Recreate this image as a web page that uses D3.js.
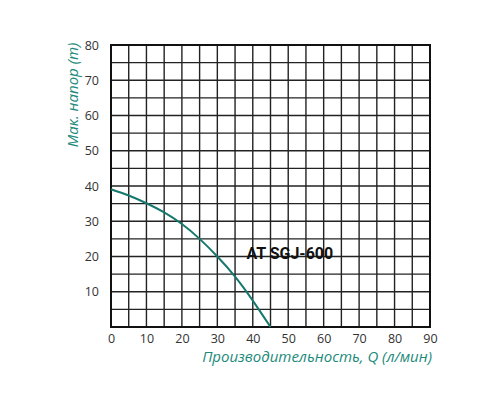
<!DOCTYPE html>
<html lang="ru">
<head>
<meta charset="UTF-8">
<script src="https://d3js.org/d3.v7.min.js"></script>
<style>
  body { margin: 0; background: #fff; }
  .tick text { font-family: "Open Sans", sans-serif; font-size: 12.5px; fill: #333; }
  .title { font-family: "Open Sans", sans-serif; font-style: italic; font-size: 15px; fill: #1b8a7b; }
</style>
</head>
<body>
<div id="chart"></div>
<script>
  // pump curve values
  var flow = [0, 5, 10, 15, 20, 25, 30, 35, 40, 45];
  var head = [39.1, 37.3, 35.1, 32.5, 29.2, 25, 20, 14.3, 7.5, 0];
  var xTicks = [0, 10, 20, 30, 40, 50, 60, 70, 80, 90];
  var yTicks = [10, 20, 30, 40, 50, 60, 70, 80];
  var modelName = "AT SGJ-600";

  var width = 500, height = 400;
  var margin = {top: 45, right: 70, bottom: 73, left: 111};

  var svg = d3.select("#chart").append("svg")
      .attr("width", width).attr("height", height);

  var x = d3.scaleLinear().domain([0, 90]).range([margin.left, width - margin.right]);
  var y = d3.scaleLinear().domain([0, 80]).range([height - margin.bottom, margin.top]);

  // grid every 5 units
  var g = svg.append("g");
  g.selectAll(".vx").data(d3.range(0, 91, 5)).enter().append("line")
      .attr("x1", d => x(d)).attr("x2", d => x(d))
      .attr("y1", y(0)).attr("y2", y(80))
      .attr("stroke", "#222").attr("stroke-width", 1.4);
  g.selectAll(".hy").data(d3.range(0, 81, 5)).enter().append("line")
      .attr("x1", x(0)).attr("x2", x(90))
      .attr("y1", d => y(d)).attr("y2", d => y(d))
      .attr("stroke", "#222").attr("stroke-width", 1.4);
  g.append("rect")
      .attr("x", x(0)).attr("y", y(80))
      .attr("width", x(90) - x(0)).attr("height", y(0) - y(80))
      .attr("fill", "none").attr("stroke", "#111").attr("stroke-width", 2);

  // axes, labels only
  var xAxis = svg.append("g").attr("transform", "translate(0," + y(0) + ")")
      .call(d3.axisBottom(x).tickValues(xTicks).tickSize(0).tickPadding(7));
  xAxis.select(".domain").remove();

  var yAxis = svg.append("g").attr("transform", "translate(" + x(0) + ",0)")
      .call(d3.axisLeft(y).tickValues(yTicks).tickSize(0).tickPadding(12));
  yAxis.select(".domain").remove();

  // curve
  var line = d3.line().curve(d3.curveNatural)
      .x((d, i) => x(flow[i])).y(d => y(d));
  svg.append("path").datum(head)
      .attr("d", line)
      .attr("fill", "none")
      .attr("stroke", "#16786c")
      .attr("stroke-width", 2);

  svg.append("text")
      .attr("x", x(38.2)).attr("y", y(19.2))
      .attr("font-family", "Roboto, sans-serif")
      .attr("font-weight", "bold").attr("font-size", 16)
      .attr("fill", "#111")
      .text(modelName);

  // axis titles
  svg.append("text").attr("class", "title")
      .attr("transform", "translate(78,95) rotate(-90)")
      .attr("text-anchor", "middle")
      .text("Мак. напор (m)");

  svg.append("text").attr("class", "title")
      .attr("x", x(90) + 2).attr("y", 362)
      .attr("text-anchor", "end")
      .text("Производительность, Q (л/мин)");
</script>
</body>
</html>
